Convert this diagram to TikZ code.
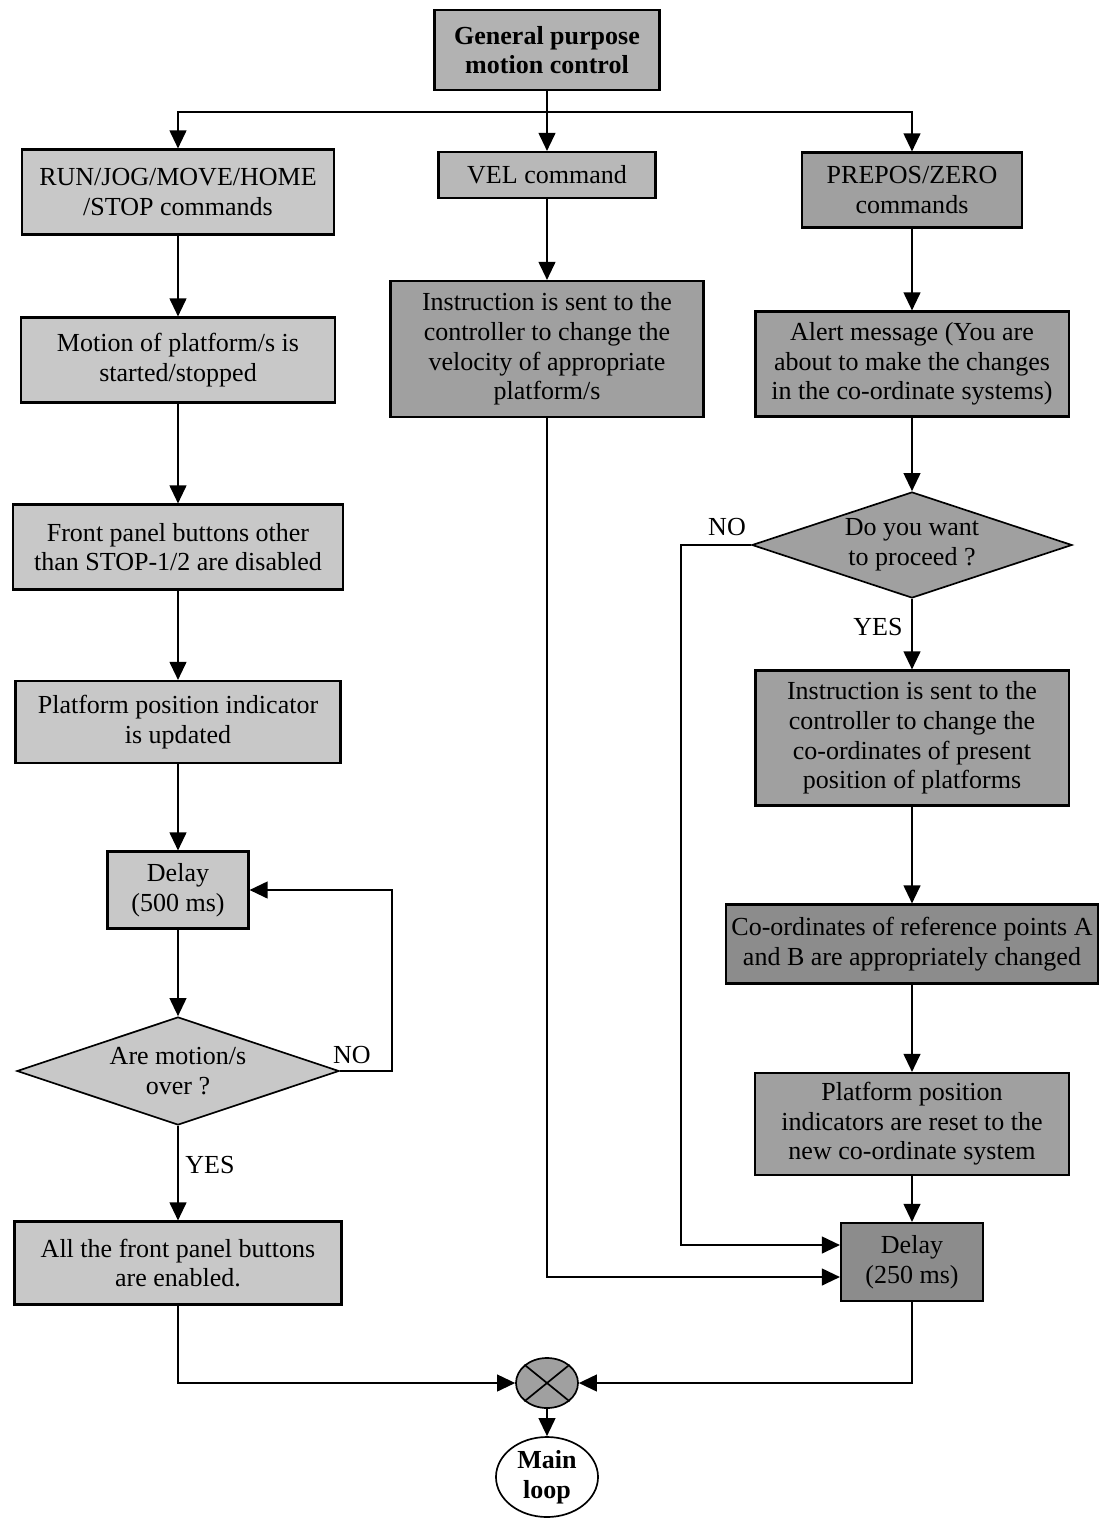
\documentclass[tikz,border=0pt]{standalone}
\usepackage{fontspec}
\setmainfont{Liberation Serif}
\usepackage{tikz}
\usetikzlibrary{
  arrows.meta,
  shapes.geometric,
  calc
}
\definecolor{paleshade}{RGB}{200,200,200}
\definecolor{darkshade}{RGB}{160,160,160}

\begin{document}
\begin{tikzpicture}[
  x=0.025cm, y=-0.025cm,
  >={Triangle[length=0.45cm,width=0.42cm]},
  lightbox/.style={draw=black, line width=1.5pt, fill=paleshade,
                   inner sep=2pt, align=center,
                   font=\fontsize{18.5}{21}\selectfont},
  darkbox/.style={lightbox, fill=darkshade},
  query/.style={draw=black, line width=1.2pt, diamond, aspect=3,
                inner sep=0pt, align=center,
                font=\fontsize{18.5}{21}\selectfont},
  arr/.style={->, line width=1.2pt},
  lne/.style={line width=1.2pt},
  lbl/.style={font=\fontsize{18.5}{21}\selectfont, inner sep=1pt},
]
\useasboundingbox (0,0) rectangle (1100,1518);

% top of the chart
\node[darkbox, fill=black!30, minimum width=5.625cm, minimum height=2cm,
      font=\fontsize{18.5}{21}\selectfont\bfseries] (gpmc) at (547,50)
  {General purpose\\motion control};
\coordinate (split) at (547,112);

% left branch
\node[lightbox, minimum width=7.8cm, minimum height=2.125cm] (runcmd) at (178,192)
  {RUN/JOG/MOVE/HOME\\/STOP commands};
\node[lightbox, minimum width=7.85cm, minimum height=2.125cm] (motion) at (178,360)
  {Motion of platform/s is\\started/stopped};
\node[lightbox, minimum width=8.25cm, minimum height=2.125cm] (front) at (178,547)
  {Front panel buttons other\\than STOP-1/2 are disabled};
\node[lightbox, minimum width=8.125cm, minimum height=2.05cm] (posind) at (178,722)
  {Platform position indicator\\is updated};
\node[lightbox, minimum width=3.525cm, minimum height=1.925cm] (delayA) at (178,890)
  {Delay\\(500 ms)};
\node[query, fill=paleshade, minimum width=8.05cm, minimum height=2.7cm] (motover) at (178,1071)
  {Are motion/s\\over ?};
\node[lightbox, minimum width=8.175cm, minimum height=2.075cm] (enabled) at (178,1263)
  {All the front panel buttons\\are enabled.};

% middle branch
\node[lightbox, fill=black!28, minimum width=5.425cm, minimum height=1.15cm] (velcmd) at (547,175)
  {VEL command};
\node[darkbox, minimum width=7.825cm, minimum height=3.4cm] (instrvel) at (547,349)
  {Instruction is sent to the\\controller to change the\\velocity of appropriate\\platform/s};

% right branch
\node[darkbox, minimum width=5.5cm, minimum height=1.875cm] (prepos) at (912,190)
  {PREPOS/ZERO\\commands};
\node[darkbox, minimum width=7.825cm, minimum height=2.625cm] (alert) at (912,364)
  {Alert message (You are\\about to make the changes\\in the co-ordinate systems)};
\node[query, fill=darkshade, minimum width=8cm, minimum height=2.65cm] (proceed) at (912,545)
  {Do you want\\to proceed ?};
\node[darkbox, minimum width=7.825cm, minimum height=3.375cm] (instrco) at (912,738)
  {Instruction is sent to the\\controller to change the\\co-ordinates of present\\position of platforms};
\node[darkbox, fill=black!45, minimum width=9.3cm, minimum height=1.975cm] (coord) at (912,944)
  {Co-ordinates of reference points A\\and B are appropriately changed};
\node[darkbox, minimum width=7.85cm, minimum height=2.55cm] (reset) at (912,1124)
  {Platform position\\indicators are reset to the\\new co-ordinate system};
\node[darkbox, fill=black!45, minimum width=3.55cm, minimum height=1.95cm] (delayB) at (912,1262)
  {Delay\\(250 ms)};

% joining point and exit
\node[ellipse, draw=black, line width=1.2pt, fill=darkshade,
      minimum width=1.55cm, minimum height=1.25cm, inner sep=0pt] (merge) at (547,1383) {};
\draw[lne] (merge.north east) -- (merge.south west);
\draw[lne] (merge.north west) -- (merge.south east);
\node[ellipse, draw=black, line width=1.2pt, minimum width=2.55cm, minimum height=2cm,
      inner sep=0pt, align=center, font=\fontsize{18.5}{21}\selectfont\bfseries] (mainloop) at (547,1477)
  {Main\\loop};

% connectors
\draw[lne] (gpmc) -- (split);
\draw[arr] (split) -| (runcmd.north);
\draw[arr] (split) -- (velcmd);
\draw[arr] (split) -| (prepos.north);

\draw[arr] (runcmd) -- (motion);
\draw[arr] (motion) -- (front);
\draw[arr] (front) -- (posind);
\draw[arr] (posind) -- (delayA);
\draw[arr] (delayA) -- (motover);
\draw[arr] (motover.east) -- ++(52,0) |- (delayA.east);
\draw[arr] (motover) -- (enabled);

\draw[arr] (velcmd) -- (instrvel);
\draw[arr] (instrvel.south) |- ($(delayB.west)+(0,15)$);

\draw[arr] (prepos) -- (alert);
\draw[arr] (alert) -- (proceed);
\draw[arr] (proceed) -- (instrco);
\draw[arr] (proceed.west) -- ++(-70,0) |- ($(delayB.west)+(0,-17)$);
\draw[arr] (instrco) -- (coord);
\draw[arr] (coord) -- (reset);
\draw[arr] (reset) -- (delayB);

\draw[arr] (enabled.south) |- (merge.west);
\draw[arr] (delayB.south) |- (merge.east);
\draw[arr] (merge) -- (mainloop);

% branch labels
\node[lbl] (noA) at (352,1055) {NO};
\node[lbl] (yesA) at (210,1165) {YES};
\node[lbl] (noB) at (727,527) {NO};
\node[lbl] (yesB) at (878,627) {YES};

\end{tikzpicture}
\end{document}
